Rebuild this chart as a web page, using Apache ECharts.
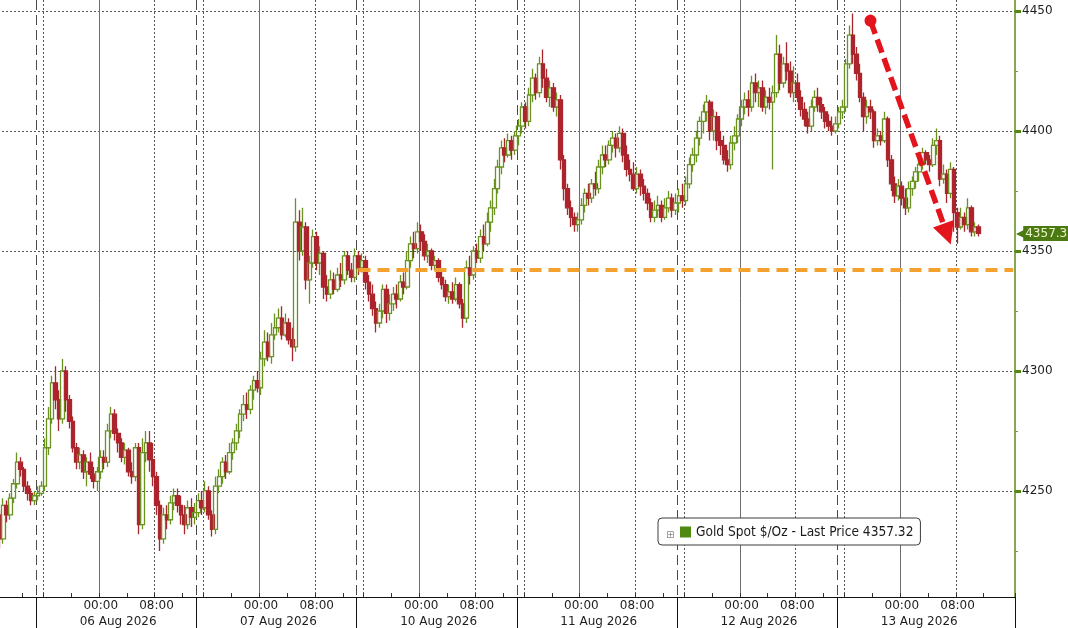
<!DOCTYPE html>
<html><head><meta charset="utf-8">
<script src="https://cdn.jsdelivr.net/npm/echarts@6/dist/echarts.min.js"></script>
<style>html,body{margin:0;padding:0;background:#fff}#c{width:1068px;height:628px}</style>
</head><body><div id="c"></div>
<script>
// ---- data ----
const seriesName = 'Gold Spot $/Oz';
const lastPrice = 4357.32;
const supportLevel = 4342;
const sessionDates = ['05 Aug 2026','06 Aug 2026','07 Aug 2026','10 Aug 2026','11 Aug 2026','12 Aug 2026','13 Aug 2026','14 Aug 2026'];
const slotTimes = ['15:00','15:30','16:00','16:30','17:00','17:30','18:00','18:30','19:00','19:30','20:00','20:30',
  '21:00','21:30','22:00','22:30','23:00','23:30','00:00','00:30','01:00','01:30','02:00','02:30','03:00','03:30',
  '04:00','04:30','05:00','05:30','06:00','06:30','07:00','07:30','08:00','08:30','09:00','09:30','10:00','10:30',
  '11:00','11:30','12:00','12:30','13:00','13:30'];
const firstSessionSlots = 11;
const lastSessionSlots = 5;
const yTicks = [4250, 4300, 4350, 4400, 4450];
const yMinorTicks = [4225, 4275, 4325, 4375, 4425];
const yMin = 4205.8, yMax = 4454.6;
const arrowFrom = ['13 Aug 2026|19:30', 4446];
const arrowTo = ['13 Aug 2026|06:30', 4357];

// candles: [open, close, low, high]
const aug05 = [
[4240,4230,4226,4242],[4230,4244,4228,4247],[4244,4240,4237,4246],[4240,4247,4238,4249],[4247,4253,4245,4255],
[4253,4262,4251,4266],[4262,4259,4256,4264],[4259,4252,4250,4260],[4252,4249,4246,4254],[4249,4246,4244,4251],
[4246,4248,4244,4250]];
const aug06 = [
[4248,4249,4246,4252],[4249,4252,4248,4254],[4252,4268,4250,4272],[4268,4280,4265,4285],[4280,4295,4278,4298],
[4295,4288,4284,4302],[4288,4280,4275,4292],[4280,4300,4278,4305],[4300,4288,4283,4302],[4288,4279,4276,4290],
[4279,4268,4266,4281],[4268,4262,4259,4270],[4262,4265,4259,4268],[4265,4258,4255,4267],[4258,4262,4252,4264],
[4262,4257,4255,4266],[4257,4254,4251,4260],[4254,4258,4250,4260],[4258,4264,4255,4267],[4264,4262,4259,4267],
[4262,4275,4260,4278],[4275,4282,4272,4285],[4282,4274,4271,4284],[4274,4270,4266,4276],[4270,4264,4262,4272],
[4264,4267,4261,4270],[4267,4258,4256,4268],[4258,4256,4253,4262],[4256,4268,4254,4270],[4268,4236,4232,4270],
[4236,4266,4234,4272],[4266,4270,4262,4275],[4270,4263,4258,4275],[4263,4256,4252,4270],[4256,4244,4240,4258],
[4244,4230,4225,4246],[4230,4240,4228,4243],[4240,4238,4234,4244],[4238,4245,4236,4248],[4245,4248,4242,4251],
[4248,4244,4241,4251],[4244,4240,4236,4248],[4240,4236,4232,4244],[4236,4243,4234,4246],[4243,4239,4235,4247],
[4239,4241,4236,4245]];
const aug07 = [
[4241,4246,4239,4249],[4246,4243,4240,4250],[4243,4250,4241,4254],[4250,4240,4238,4252],[4240,4234,4231,4242],
[4234,4252,4232,4256],[4252,4256,4249,4259],[4256,4262,4253,4264],[4262,4258,4255,4265],[4258,4266,4257,4270],
[4266,4270,4263,4272],[4270,4275,4267,4278],[4275,4282,4272,4284],[4282,4286,4279,4290],[4286,4284,4280,4291],
[4284,4292,4282,4294],[4292,4296,4288,4298],[4296,4293,4291,4300],[4293,4305,4290,4308],[4305,4312,4302,4317],
[4312,4306,4304,4316],[4306,4315,4303,4320],[4315,4318,4313,4324],[4318,4322,4316,4326],[4322,4315,4313,4327],
[4315,4320,4314,4324],[4320,4313,4311,4322],[4313,4310,4304,4318],[4310,4362,4308,4372],[4362,4350,4346,4367],
[4350,4360,4348,4368],[4360,4338,4334,4362],[4338,4345,4328,4348],[4345,4356,4343,4359],[4356,4345,4342,4358],
[4345,4349,4340,4352],[4349,4335,4330,4350],[4335,4332,4329,4340],[4332,4338,4330,4342],[4338,4334,4332,4341],
[4334,4340,4333,4343],[4340,4338,4335,4345],[4338,4348,4336,4350],[4348,4342,4340,4350],[4342,4339,4337,4345],
[4339,4348,4337,4351]];
const aug10 = [
[4348,4343,4340,4350],[4343,4346,4341,4349],[4346,4337,4334,4348],[4337,4332,4329,4340],[4332,4326,4323,4336],
[4326,4320,4316,4329],[4320,4325,4318,4328],[4325,4334,4322,4336],[4334,4324,4320,4336],[4324,4328,4321,4332],
[4328,4332,4325,4335],[4332,4330,4326,4336],[4330,4337,4329,4340],[4337,4335,4332,4341],[4335,4346,4334,4350],
[4346,4353,4343,4356],[4353,4351,4347,4358],[4351,4358,4349,4362],[4358,4354,4350,4361],[4354,4348,4346,4357],
[4348,4350,4345,4353],[4350,4344,4342,4351],[4344,4346,4342,4348],[4346,4339,4337,4347],[4339,4336,4334,4342],
[4336,4331,4329,4338],[4331,4333,4328,4336],[4333,4330,4328,4337],[4330,4336,4329,4339],[4336,4328,4326,4337],
[4328,4322,4318,4330],[4322,4343,4320,4346],[4343,4340,4336,4348],[4340,4350,4338,4352],[4350,4347,4345,4353],
[4347,4356,4345,4359],[4356,4353,4350,4361],[4353,4362,4352,4366],[4362,4368,4358,4371],[4368,4376,4365,4380],
[4376,4385,4374,4388],[4385,4393,4382,4396],[4393,4390,4387,4397],[4390,4396,4389,4399],[4396,4392,4388,4398],
[4392,4398,4390,4400]];
const aug11 = [
[4398,4402,4394,4405],[4402,4410,4399,4412],[4410,4404,4401,4412],[4404,4415,4402,4418],[4415,4422,4412,4426],
[4422,4416,4413,4424],[4416,4428,4414,4431],[4428,4422,4418,4434],[4422,4414,4412,4426],[4414,4418,4410,4421],
[4418,4410,4408,4420],[4410,4413,4406,4416],[4413,4388,4384,4415],[4388,4376,4371,4390],[4376,4368,4365,4378],
[4368,4364,4360,4371],[4364,4361,4358,4366],[4361,4363,4358,4366],[4363,4369,4361,4372],[4369,4374,4366,4376],
[4374,4372,4369,4378],[4372,4378,4370,4380],[4378,4376,4373,4383],[4376,4385,4374,4388],[4385,4390,4382,4394],
[4390,4388,4385,4394],[4388,4394,4386,4396],[4394,4397,4391,4400],[4397,4393,4389,4399],[4393,4399,4391,4402],
[4399,4390,4387,4401],[4390,4384,4381,4394],[4384,4382,4379,4388],[4382,4376,4375,4387],[4376,4382,4374,4385],
[4382,4377,4373,4384],[4377,4374,4371,4380],[4374,4370,4367,4376],[4370,4364,4362,4372],[4364,4367,4362,4371],
[4367,4369,4364,4373],[4369,4364,4362,4371],[4364,4368,4363,4372],[4368,4372,4366,4375],[4372,4367,4364,4374],
[4367,4370,4365,4374]];
const aug12 = [
[4370,4373,4366,4376],[4373,4371,4368,4378],[4371,4378,4369,4381],[4378,4386,4376,4389],[4386,4390,4383,4393],
[4390,4397,4387,4400],[4397,4404,4394,4406],[4404,4408,4399,4411],[4408,4412,4404,4415],[4412,4400,4396,4413],
[4400,4406,4396,4409],[4406,4396,4392,4408],[4396,4394,4390,4400],[4394,4388,4386,4398],[4388,4386,4383,4392],
[4386,4395,4384,4398],[4395,4398,4392,4402],[4398,4405,4395,4407],[4405,4410,4402,4413],[4410,4413,4407,4416],
[4413,4410,4406,4417],[4410,4420,4408,4423],[4420,4416,4412,4424],[4416,4418,4410,4421],[4418,4410,4408,4421],
[4410,4414,4407,4417],[4414,4412,4409,4418],[4412,4416,4384,4419],[4416,4432,4414,4440],[4432,4420,4417,4436],
[4420,4428,4418,4431],[4428,4425,4421,4437],[4425,4416,4414,4429],[4416,4420,4412,4427],[4420,4414,4412,4424],
[4414,4409,4406,4417],[4409,4405,4402,4412],[4405,4402,4399,4408],[4402,4410,4400,4413],[4410,4414,4408,4417],
[4414,4411,4408,4418],[4411,4408,4405,4414],[4408,4404,4401,4410],[4404,4402,4400,4407],[4402,4400,4398,4406],
[4400,4403,4399,4406]];
const aug13 = [
[4403,4408,4401,4410],[4408,4410,4405,4413],[4410,4428,4408,4430],[4428,4440,4426,4444],[4440,4432,4428,4449],
[4432,4424,4421,4435],[4424,4414,4412,4428],[4414,4406,4400,4416],[4406,4410,4403,4413],[4410,4408,4405,4413],
[4408,4396,4393,4409],[4396,4398,4394,4401],[4398,4396,4394,4400],[4396,4405,4395,4408],[4405,4388,4385,4406],
[4388,4378,4375,4390],[4378,4373,4370,4381],[4373,4377,4371,4380],[4377,4372,4369,4379],[4372,4368,4365,4376],
[4368,4376,4366,4379],[4376,4379,4373,4381],[4379,4383,4376,4385],[4383,4386,4379,4388],[4386,4391,4384,4393],
[4391,4388,4386,4392],[4388,4386,4383,4390],[4386,4394,4385,4397],[4394,4396,4390,4401],[4396,4380,4377,4398],
[4380,4382,4378,4386],[4382,4374,4370,4384],[4374,4384,4372,4387],[4384,4366,4358,4385],[4366,4360,4353,4368],
[4360,4364,4359,4368],[4364,4361,4358,4366],[4361,4368,4359,4372],[4368,4358,4356,4369],[4358,4360,4356,4362],
[4360,4357.32,4356,4361]];

// ---- build categories ----
const cats = [];
sessionDates.forEach((d, s) => {
  let times = slotTimes;
  if (s === 0) times = slotTimes.slice(slotTimes.length - firstSessionSlots);
  if (s === sessionDates.length - 1) times = slotTimes.slice(0, lastSessionSlots);
  times.forEach(t => cats.push(d + '|' + t));
});
const candleData = [].concat(aug05, aug06, aug07, aug10, aug11, aug12, aug13);

const sess = v => v.split('|')[0];
const tm = v => v.split('|')[1];
const sIdx = v => sessionDates.indexOf(sess(v));
const fullSess = v => { const i = sIdx(v); return i >= 1 && i <= sessionDates.length - 2; };
const visSess = v => sIdx(v) <= sessionDates.length - 2;
const isSessionStart = (i, v) => fullSess(v) && tm(v) === '15:00';
const isTimeLabel = (i, v) => fullSess(v) && (tm(v) === '00:00' || tm(v) === '08:00');
const isDateLabel = (i, v) => fullSess(v) && tm(v) === '02:30';
const isMidnight = (i, v) => fullSess(v) && tm(v) === '00:00';
const isDotted = (i, v) => fullSess(v) && (tm(v) === '08:00' || tm(v) === '16:00');
const isFourHour = (i, v) => visSess(v) && ['16:00','20:00','00:00','04:00','08:00','12:00'].indexOf(tm(v)) >= 0;

const FONT = 'DejaVu Sans';
const baseX = { type: 'category', data: cats, boundaryGap: true, position: 'bottom', gridIndex: 0 };
const hiddenParts = { axisLine: { show: false }, axisTick: { show: false }, axisLabel: { show: false } };

const chart = echarts.init(document.getElementById('c'), null, { renderer: 'canvas' });
chart.setOption({
  animation: false,
  backgroundColor: '#ffffff',
  grid: { left: -2, right: 53, top: 0, bottom: 31, containLabel: false, outerBoundsMode: 'none' },
  title: { text: '\u229E', left: 661, top: 525, textStyle: { fontSize: 10, color: '#8a8a8a', fontWeight: 'normal', fontFamily: FONT } },
  legend: {
    left: 658, top: 518, padding: [7, 7, 6, 22],
    backgroundColor: '#ffffff', borderColor: '#3c3c3c', borderWidth: 1, borderRadius: 4,
    itemWidth: 11, itemHeight: 11, selectedMode: false,
    data: [{ name: seriesName, icon: 'rect', itemStyle: { color: '#4e8a12', borderWidth: 0 } }],
    formatter: n => n + ' - Last Price ' + lastPrice.toFixed(2),
    textStyle: { fontSize: 13.6, fontFamily: 'DejaVu Sans Condensed', color: '#1a1a1a' }
  },
  xAxis: [
    Object.assign({}, baseX, {
      axisLine: { show: true, lineStyle: { color: '#111', width: 1 } },
      axisTick: { show: true, interval: isSessionStart, length: 31, lineStyle: { color: '#111', width: 1 } },
      axisLabel: { show: true, interval: isTimeLabel, formatter: v => tm(v), margin: 3, color: '#1e1e1e', fontSize: 12, fontFamily: FONT },
      splitLine: { show: false }
    }),
    Object.assign({}, baseX, {
      axisLine: { show: false },
      axisTick: { show: true, inside: true, length: 4, interval: isFourHour, lineStyle: { color: '#333', width: 1 } },
      axisLabel: { show: true, interval: isDateLabel, formatter: v => sess(v), margin: 19, color: '#1e1e1e', fontSize: 12, fontFamily: FONT },
      splitLine: { show: false }
    }),
    Object.assign({}, baseX, hiddenParts, {
      splitLine: { show: true, interval: isMidnight, showMaxLine: false, lineStyle: { color: '#6e6e6e', width: 1 } }
    }),
    Object.assign({}, baseX, hiddenParts, {
      splitLine: { show: true, interval: isDotted, showMaxLine: false, lineStyle: { color: '#555', width: 1, type: [2, 2] } }
    }),
    Object.assign({}, baseX, hiddenParts, {
      splitLine: { show: true, interval: isSessionStart, showMaxLine: false, lineStyle: { color: '#4a4a4a', width: 1, type: [10, 5] } }
    })
  ],
  yAxis: [
    {
      type: 'value', position: 'right', min: yMin, max: yMax,
      axisLine: { show: true, lineStyle: { color: '#5f8a1c', width: 1.5 } },
      axisTick: { show: true, customValues: yTicks, length: 6, lineStyle: { color: '#4f8a12', width: 3 } },
      axisLabel: { show: true, customValues: yTicks, margin: 7, color: '#1e1e1e', fontSize: 12, fontFamily: FONT, formatter: v => String(v) },
      splitLine: { show: true, lineStyle: { color: '#555', width: 1, type: [2, 2] } }
    },
    {
      type: 'value', position: 'right', min: yMin, max: yMax,
      axisLine: { show: false },
      axisTick: { show: true, customValues: yMinorTicks, length: 3, lineStyle: { color: '#7a9a40', width: 1 } },
      axisLabel: { show: false },
      splitLine: { show: false }
    }
  ],
  series: [{
    type: 'candlestick', name: seriesName, xAxisIndex: 0, yAxisIndex: 0,
    data: candleData, barWidth: 4.2,
    itemStyle: { color: 'rgba(255,255,255,0)', color0: '#b0232e', borderColor: '#6a9220', borderColor0: '#a8262c', borderWidth: 1.3 },
    markLine: {
      silent: true, symbol: 'none', animation: false,
      label: { show: false },
      data: [
        [ { coord: ['10 Aug 2026|15:00', supportLevel], lineStyle: { color: '#f5a12f', width: 4, type: [12, 7] } },
          { coord: [cats[cats.length - 1], supportLevel] } ],
        [ { coord: arrowFrom, symbol: 'circle', symbolSize: 12, lineStyle: { color: '#e4141c', width: 5.5, type: [14, 6] } },
          { coord: arrowTo, symbol: 'triangle', symbolSize: 22 } ],
        { yAxis: lastPrice, lineStyle: { width: 0, color: 'rgba(0,0,0,0)' },
          label: { show: true, position: 'end', distance: 1,
            formatter: '{t|\u25C0}{v|' + lastPrice.toFixed(2) + '}',
            rich: {
              t: { color: '#4c7a12', fontSize: 12, fontFamily: FONT, padding: [0, -2, 0, 0] },
              v: { backgroundColor: '#4c7a12', color: '#eef3cc', fontSize: 12, fontFamily: FONT, padding: [2, 4, 1, 2] }
            } } }
      ]
    }
  }]
});
</script>
</body></html>
